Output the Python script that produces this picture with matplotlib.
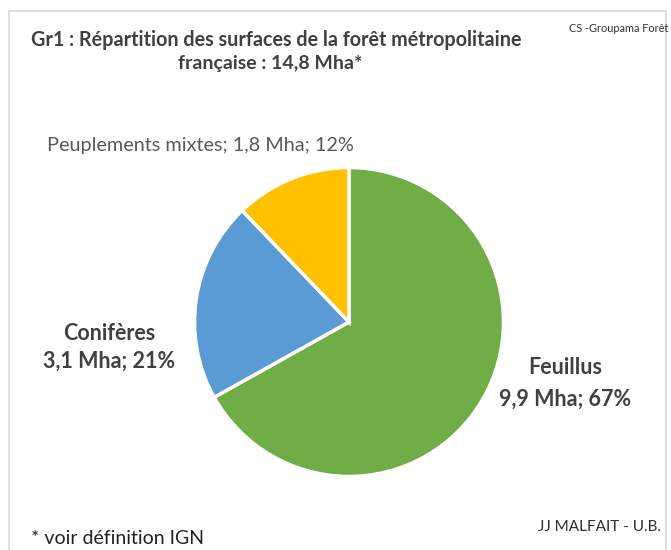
import matplotlib.pyplot as plt
from matplotlib.patches import Rectangle

# surfaces de la forêt métropolitaine (Mha)
categories = ["Feuillus", "Conifères", "Peuplements mixtes"]
surfaces = [9.9, 3.1, 1.8]
percents = [67, 21, 12]
colors = ["#70AD47", "#5B9BD5", "#FFC000"]

W, H = 671, 550
plt.rcParams["font.family"] = ["Lato", "DejaVu Sans"]

fig = plt.figure(figsize=(W / 100, H / 100), dpi=100)


def px(x, y):
    return x / W, 1 - y / H


# light frame around the chart
fig.patches.append(Rectangle(px(9, 560), 657 / W, 549 / H, transform=fig.transFigure,
                             fill=False, edgecolor="#D9D9D9", linewidth=1.2))

cx, cy, r = 349, 322, 156
ax = fig.add_axes([(cx - r) / W, (H - cy - r) / H, 2 * r / W, 2 * r / H])
ax.pie(surfaces, colors=colors, startangle=90, counterclock=False,
       wedgeprops=dict(edgecolor="white", linewidth=2.5))
ax.set_xlim(-1.01, 1.01)
ax.set_ylim(-1.01, 1.01)
ax.set_aspect("equal")
ax.axis("off")

dark = "#404040"
fig.text(*px(276, 40), "Gr1 : Répartition des surfaces de la forêt métropolitaine",
         ha="center", va="center", fontsize=14.2, fontweight="bold", color=dark)
fig.text(*px(270, 63), "française : 14,8 Mha*",
         ha="center", va="center", fontsize=14, fontweight="bold", color=dark)
fig.text(*px(668, 29), "CS -Groupama Forêt", ha="right", va="center",
         fontsize=7.8, color="#303030",
         family=["Liberation Sans Narrow", "Lato", "DejaVu Sans"])

fmt = lambda i: f"{surfaces[i]:.1f}".replace(".", ",") + f" Mha; {percents[i]}%"

fig.text(*px(565, 368), categories[0], ha="center", va="center",
         fontsize=15.5, fontweight="bold", color=dark)
fig.text(*px(565, 399), fmt(0), ha="center", va="center",
         fontsize=15.5, fontweight="bold", color=dark)
fig.text(*px(109, 333), categories[1], ha="center", va="center",
         fontsize=15.5, fontweight="bold", color=dark)
fig.text(*px(109, 361), fmt(1), ha="center", va="center",
         fontsize=15.5, fontweight="bold", color=dark)
fig.text(*px(200, 145), f"{categories[2]}; {fmt(2)}", ha="center", va="center",
         fontsize=14.3, color="#595959")

fig.text(*px(31, 538), "* voir définition IGN", ha="left", va="center",
         fontsize=14, color="#202020")
fig.text(*px(661, 527), "JJ MALFAIT - U.B.", ha="right", va="center",
         fontsize=11, color="#303030")

fig.savefig("out.png", dpi=100, facecolor="white")
